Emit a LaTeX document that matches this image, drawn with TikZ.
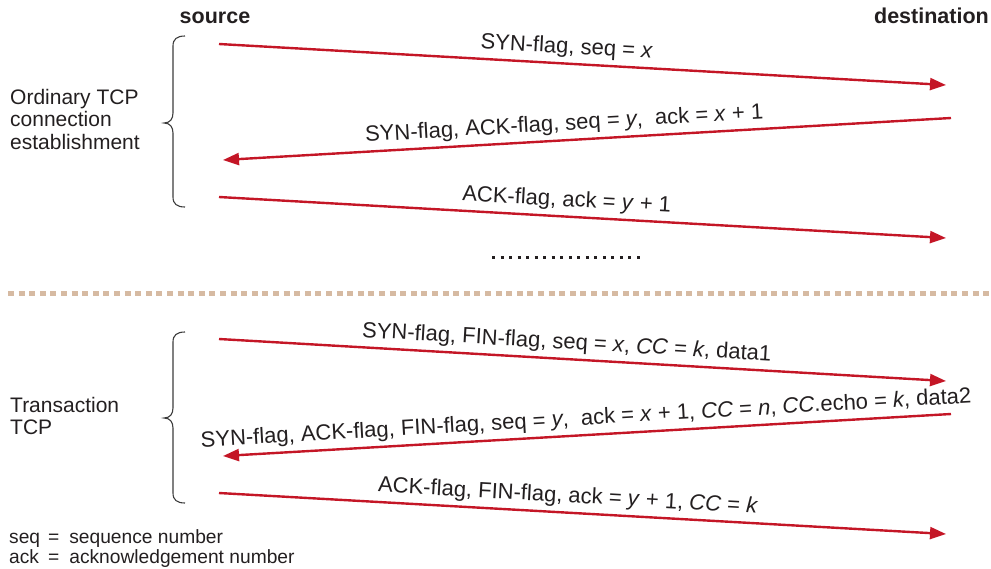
\documentclass[tikz,border=0pt]{standalone}
\usepackage{fontspec}
\setmainfont{Liberation Sans}
\usetikzlibrary{arrows.meta}

\definecolor{msgred}{RGB}{196,22,38}
\definecolor{inkgray}{RGB}{35,31,32}
\definecolor{bracegray}{RGB}{60,60,60}
\definecolor{sepbeige}{RGB}{214,186,162}

% italic variable names in the message labels
\newcommand\va[1]{\textit{#1}}

% curly brace: top y, tip y, bottom y
\newcommand\tcpbrace[3]{%
  \draw[bracestroke] (185,#1) .. controls (177,#1) and (173,{#1+3}) .. (173,{#1+10})
    -- (173,{#2-10}) .. controls (173,{#2-4}) and (170,#2) .. (164,#2)
    .. controls (170,#2) and (173,{#2+4}) .. (173,{#2+10})
    -- (173,{#3-10}) .. controls (173,{#3-3}) and (177,#3) .. (185,#3);}

\begin{document}
\begin{tikzpicture}[x=1pt,y=-1pt,
  msg/.style={draw=msgred, line width=2.4pt, -{Triangle[length=16pt,width=12pt]}},
  rmsg/.style={draw=msgred, line width=2.4pt, {Triangle[length=16pt,width=12pt]}-},
  msglabel/.style={sloped, anchor=south, inner sep=0pt, outer sep=5.5pt,
    text=inkgray, font=\fontsize{22}{26}\selectfont},
  headtext/.style={inner sep=0pt, text=inkgray, font=\fontsize{21.5}{25}\selectfont\bfseries},
  sidetext/.style={inner sep=0pt, anchor=base west, text=inkgray,
    font=\fontsize{21}{22.7}\selectfont},
  legendtext/.style={inner sep=0pt, anchor=base west, text=inkgray,
    font=\fontsize{19.2}{20}\selectfont},
  bracestroke/.style={draw=bracegray, line width=1.1pt},
  sepline/.style={draw=sepbeige, line width=5pt, dash pattern=on 6pt off 4.6pt},
  dotrow/.style={draw=inkgray, line width=3pt, dash pattern=on 3pt off 5.53pt}
]
\useasboundingbox (0,0) rectangle (991,568);

% column headings
\node[headtext, anchor=base] (src) at (215,23) {source};
\node[headtext, anchor=base east] (dst) at (989,23) {destination};

% message end points
\coordinate (s1) at (219,44);  \coordinate (d1) at (946,85);
\coordinate (s2) at (223,160); \coordinate (d2) at (951,118);
\coordinate (s3) at (219,197); \coordinate (d3) at (946,238);
\coordinate (s4) at (219,339); \coordinate (d4) at (946,381);
\coordinate (s5) at (223,456); \coordinate (d5) at (951,414);
\coordinate (s6) at (219,493); \coordinate (d6) at (946,534);

% ordinary three-way handshake
\draw[msg] (s1) -- node[msglabel, pos=0.477] (m1) {SYN-flag, seq = \va{x}} (d1);
\draw[rmsg] (s2) -- node[msglabel, pos=0.47] (m2)
  {SYN-flag, ACK-flag, seq = \va{y},\ \ ack = \va{x} + 1} (d2);
\draw[msg] (s3) -- node[msglabel, pos=0.477] (m3) {ACK-flag, ack = \va{y} + 1} (d3);

\draw[dotrow] (492,257) -- (640,257);

% section separator
\draw[sepline] (8,293) -- (991,293);

% transaction TCP exchange
\draw[msg] (s4) -- node[msglabel, pos=0.477] (m4)
  {SYN-flag, FIN-flag, seq = \va{x}, \va{CC} = \va{k}, data1} (d4);
\draw[rmsg] (s5) -- node[msglabel, pos=0.5] (m5)
  {SYN-flag, ACK-flag, FIN-flag, seq = \va{y},\ \ ack = \va{x} + 1, \va{CC} = \va{n}, \va{CC}.echo = \va{k}, data2} (d5);
\draw[msg] (s6) -- node[msglabel, pos=0.479] (m6)
  {ACK-flag, FIN-flag, ack = \va{y} + 1, \va{CC} = \va{k}} (d6);

% braces and their captions
\tcpbrace{36}{123}{207}
\tcpbrace{332}{418}{503}
\node[sidetext] (ord) at (10,104)
  {\begin{tabular}[t]{@{}l@{}}Ordinary TCP\\connection\\establishment\end{tabular}};
\node[sidetext] (tt) at (10,412)
  {\begin{tabular}[t]{@{}l@{}}Transaction\\TCP\end{tabular}};

% legend
\node[legendtext] (leg) at (9,543)
  {\begin{tabular}[t]{@{}l@{\hspace{8pt}=\hspace{10pt}}l@{}}seq & sequence number\\ack & acknowledgement number\end{tabular}};
\end{tikzpicture}
\end{document}
